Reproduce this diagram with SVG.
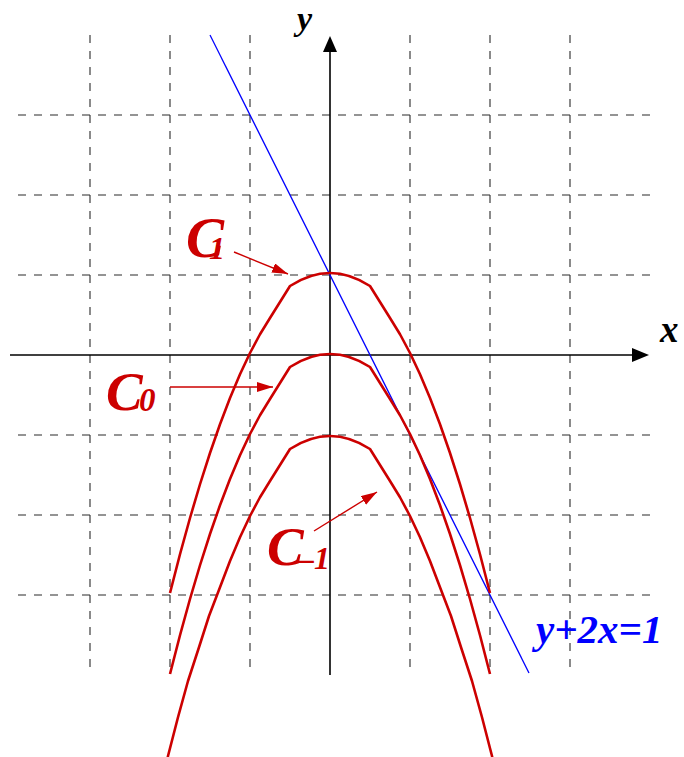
<svg xmlns="http://www.w3.org/2000/svg" width="684" height="757" viewBox="0 0 684 757">
<style>
.grid{stroke:#2a2a2a;stroke-width:1.1;stroke-dasharray:8 8;fill:none}
.axis{stroke:#000;stroke-width:1.6;fill:none}
.curve{stroke:#cc0000;stroke-width:2.6;fill:none;stroke-linejoin:round}
.ptr{stroke:#cc0000;stroke-width:1.4;fill:none}
.lbl{font-family:"Liberation Serif","Times New Roman",serif;font-weight:bold;font-style:italic}
.red{fill:#cc0000}
</style>
<defs>
<marker id="ah" markerUnits="userSpaceOnUse" markerWidth="17" markerHeight="11" refX="16" refY="5" orient="auto">
<path d="M0,0 L16,5 L0,10 z" fill="#cc0000"/>
</marker>
</defs>
<g id="grid">
<path class="grid" d="M90,35V668M170,35V668M250,35V668M410,35V668M490,35V668M570,35V668"/>
<path class="grid" d="M18,115H650M18,195H650M18,275H650M18,435H650M18,515H650M18,595H650"/>
</g>
<g id="axes">
<path class="axis" d="M10,355H634"/>
<polygon points="632,348 649,355 632,362" fill="#000"/>
<path class="axis" d="M330,675V50"/>
<polygon points="323,52 330,36 337,52" fill="#000"/>
<text class="lbl" x="297" y="30" font-size="34">y</text>
<text class="lbl" x="660" y="342" font-size="37">x</text>
</g>
<g id="line">
<path d="M210,35L529,673" stroke="#0000ff" stroke-width="1.3" fill="none"/>
<text class="lbl" x="536" y="643" font-size="41" fill="#0000ff">y+2x=1</text>
</g>
<g id="C1">
<path class="curve" d="M170,593L180,554.25L190,518L200,484.25L210,453L220,424.25L230,398L240,374.25L250,353L260,334.25L270,318L290,286Q310,273 330,273Q350,273 370,286L390,318L400,334.25L410,353L420,374.25L430,398L440,424.25L450,453L460,484.25L470,518L480,554.25L490,593"/>
<text class="lbl red" x="186" y="257" font-size="57">C<tspan x="209" y="259" font-size="32">1</tspan></text>
</g>
<g id="C0">
<path class="curve" d="M170,674L180,635.25L190,599L200,565.25L210,534L220,505.25L230,479L240,455.25L250,434L260,415.25L270,399L290,367Q310,354 330,354Q350,354 370,367L390,399L400,415.25L410,434L420,455.25L430,479L440,505.25L450,534L460,565.25L470,599L480,635.25L490,674"/>
<text class="lbl red" x="106" y="410" font-size="55">C<tspan x="139" y="411" font-size="33">0</tspan></text>
</g>
<g id="Cm1">
<path class="curve" d="M165,772L168,756L178,717.25L188,681L199,647.25L209,616L220,587.25L230,561L240,537.25L250,516L260,497.25L270,481L290,449Q310,436 330,436Q350,436 370,449L390,481L400,497.25L410,516L420,537.25L430,561L440,587.25L451,616L461,647.25L472,681L482,717.25L492,756L495,772"/>
<text class="lbl red" x="267" y="565" font-size="55">C<tspan x="298" y="569" font-size="32">–1</tspan></text>
</g>
<g id="connectors">
<path class="ptr" d="M234,252L288,274" marker-end="url(#ah)"/>
<path class="ptr" d="M170,387L273,387" marker-end="url(#ah)"/>
<path class="ptr" d="M314,531L377,492" marker-end="url(#ah)"/>
</g>
</svg>
